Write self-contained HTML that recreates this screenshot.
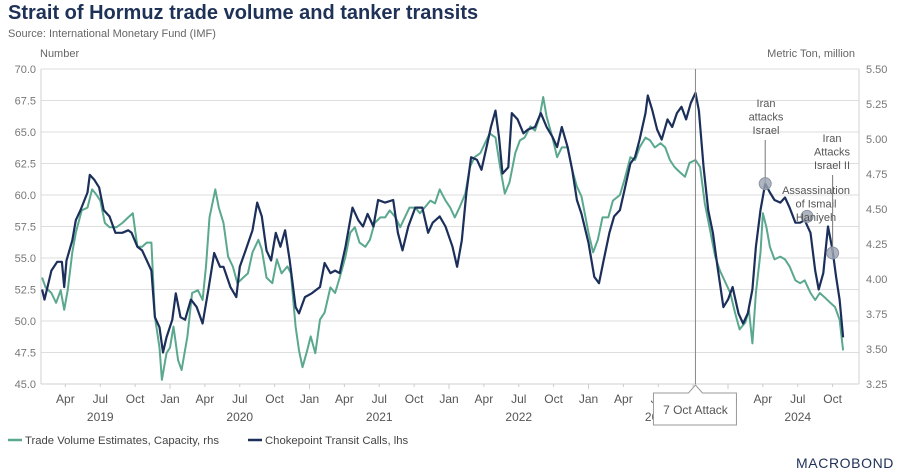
<!DOCTYPE html>
<html><head><meta charset="utf-8">
<style>
body{margin:0;background:#fff;width:907px;height:474px;overflow:hidden;font-family:"Liberation Sans",sans-serif}
svg{display:block}
</style></head>
<body>
<svg id="chart" width="907" height="474" xmlns="http://www.w3.org/2000/svg">
<text x="8" y="19" font-size="20" font-weight="bold" fill="#1e3157">Strait of Hormuz trade volume and tanker transits</text>
<text x="8" y="37" font-size="11" fill="#666">Source: International Monetary Fund (IMF)</text>
<text x="40" y="57" font-size="11" fill="#666">Number</text>
<text x="855" y="57" font-size="11" fill="#666" text-anchor="end">Metric Ton, million</text>
<g id="grid"></g>
<g id="axes"></g>
<g id="series"></g>
<g id="annot"></g>
<g>
<line x1="8" y1="440" x2="22" y2="440" stroke="#5aa88e" stroke-width="2.5"/>
<text x="25" y="444" font-size="11.3" fill="#444">Trade Volume Estimates, Capacity, rhs</text>
<line x1="248" y1="440" x2="262" y2="440" stroke="#1b2f5a" stroke-width="2.5"/>
<text x="265" y="444" font-size="11.3" fill="#444">Chokepoint Transit Calls, lhs</text>
</g>
<text x="894" y="468" font-size="14" fill="#1e3157" text-anchor="end" letter-spacing="0.6">MACROBOND</text>
</svg>
<script>
// months since Jan 2019
const navyMonths=[1.0,1.2,1.8,2.3,2.7,2.9,3.1,3.6,3.9,4.3,4.9,5.1,5.5,5.9,6.3,6.8,7.3,7.9,8.4,8.7,9.2,9.6,10.0,10.4,10.7,11.1,11.4,11.7,12.2,12.5,12.9,13.3,13.8,14.3,14.8,15.3,15.8,16.3,16.6,17.2,17.7,18.0,18.5,19.1,19.5,19.9,20.3,20.7,21.1,21.5,21.9,22.3,22.8,23.1,23.6,24.2,24.9,25.3,25.8,26.2,26.6,27.1,27.5,27.7,28.2,28.6,29.0,29.5,29.9,30.5,31.2,31.6,32.0,32.5,33.1,33.7,34.2,34.6,35.2,35.7,36.3,36.7,37.1,37.5,37.9,38.4,38.8,39.3,39.6,40.0,40.3,40.6,41.1,41.4,41.9,42.4,42.8,43.4,43.9,44.4,44.9,45.3,45.7,46.2,46.6,47.0,47.4,48.0,48.5,48.9,49.3,49.8,50.2,50.7,51.1,51.6,52.0,52.4,52.9,53.1,53.5,53.9,54.3,54.8,55.2,55.6,56.0,56.4,56.8,57.2,57.5,57.9,58.3,58.7,59.1,59.6,60.0,60.4,60.9,61.3,61.7,62.1,62.4,62.8,63.2,63.6,64.0,64.5,64.9,65.3,65.8,66.2,66.6,67.1,67.5,67.8,68.2,68.6,69.0,69.3,69.6,69.9];
const navyValues=[52.5,51.7,54.0,54.7,54.7,52.7,54.8,56.4,58.0,58.8,60.2,61.6,61.2,60.6,58.8,58.3,57.0,57.0,57.2,57.0,55.9,55.6,54.8,54.0,50.3,49.5,47.5,48.7,50.1,52.2,50.3,50.1,51.7,51.1,49.8,52.5,55.4,54.3,54.3,52.7,51.9,54.3,55.6,57.2,59.4,58.3,55.6,54.8,57.0,55.9,57.2,54.8,51.1,50.6,51.9,52.2,52.7,54.6,53.8,54.0,53.8,55.9,58.0,59.0,58.0,57.5,58.5,57.5,59.6,59.4,59.6,57.0,55.6,57.5,59.0,59.0,57.0,57.8,58.3,57.5,55.9,54.3,56.4,60.2,63.0,62.8,62.0,64.1,65.4,66.7,64.6,61.7,62.2,66.5,66.0,64.9,65.2,65.4,66.5,65.4,64.6,63.8,65.4,63.8,62.0,59.6,58.5,56.2,53.5,53.0,54.8,57.0,58.3,58.8,60.4,62.5,63.0,64.4,66.5,67.9,66.7,65.2,64.4,66.0,65.4,66.5,67.0,66.0,67.3,68.1,66.7,62.2,58.8,57.0,54.3,51.1,51.7,52.7,50.6,49.8,50.6,52.5,55.9,58.8,60.9,60.2,59.6,59.4,59.8,59.0,57.8,57.8,58.0,57.0,54.0,52.5,53.8,57.5,55.6,53.5,51.7,48.7];
const tealMonths=[1.0,1.3,1.8,2.2,2.6,2.9,3.2,3.6,3.9,4.4,4.9,5.3,5.6,6.0,6.4,6.8,7.4,7.9,8.4,8.8,9.2,9.6,10.0,10.4,10.7,11.1,11.3,11.7,12.0,12.3,12.7,13.0,13.5,13.9,14.4,14.8,15.1,15.4,15.9,16.2,16.6,17.0,17.4,17.8,18.3,18.7,19.1,19.6,19.9,20.3,20.8,21.2,21.6,22.1,22.4,22.8,23.1,23.4,23.8,24.1,24.5,24.9,25.3,25.8,26.2,26.6,27.1,27.5,27.9,28.3,28.8,29.2,29.6,30.1,30.5,30.9,31.4,31.8,32.2,32.6,33.1,33.5,33.9,34.4,34.8,35.2,35.7,36.1,36.5,36.9,37.4,37.8,38.2,38.7,39.1,39.5,40.0,40.4,40.8,41.2,41.7,42.1,42.5,43.0,43.4,43.8,44.1,44.4,44.9,45.3,45.7,46.2,46.6,47.0,47.4,48.0,48.4,48.8,49.2,49.7,50.1,50.7,51.1,51.6,52.0,52.4,52.9,53.3,53.7,54.2,54.6,55.0,55.4,55.9,56.3,56.7,57.2,57.6,58.0,58.5,58.9,59.3,59.7,60.2,60.6,61.0,61.5,61.8,62.1,62.4,62.8,63.0,63.3,63.6,64.0,64.5,64.9,65.3,65.8,66.2,66.6,67.1,67.5,67.9,68.3,68.8,69.2,69.6,69.9];
const tealValues=[4.01,3.94,3.90,3.83,3.92,3.78,3.92,4.19,4.33,4.49,4.51,4.64,4.61,4.56,4.40,4.37,4.37,4.40,4.44,4.47,4.23,4.23,4.26,4.26,3.73,3.51,3.28,3.47,3.51,3.66,3.42,3.35,3.59,3.90,3.92,3.85,4.09,4.44,4.64,4.51,4.40,4.16,4.09,3.97,4.01,4.04,4.19,4.28,4.21,4.01,3.97,4.14,4.04,4.09,4.04,3.66,3.49,3.37,3.49,3.59,3.47,3.71,3.76,3.94,3.90,4.01,4.16,4.33,4.37,4.26,4.23,4.28,4.40,4.44,4.44,4.49,4.44,4.37,4.44,4.51,4.51,4.47,4.51,4.56,4.54,4.64,4.56,4.51,4.44,4.51,4.61,4.80,4.87,4.90,4.97,5.04,5.01,4.80,4.61,4.69,4.90,4.99,5.01,5.09,5.06,5.16,5.30,5.16,5.01,4.87,4.94,4.94,4.78,4.66,4.59,4.33,4.19,4.28,4.44,4.44,4.56,4.60,4.71,4.87,4.85,4.94,5.01,4.99,4.94,4.97,4.94,4.85,4.80,4.76,4.73,4.83,4.85,4.80,4.54,4.33,4.16,4.06,3.99,3.90,3.76,3.64,3.69,3.78,3.54,3.90,4.19,4.47,4.37,4.23,4.14,4.16,4.14,4.09,3.99,3.97,3.99,3.90,3.85,3.90,3.87,3.83,3.80,3.71,3.49];
const leftTicks=["45.0","47.5","50.0","52.5","55.0","57.5","60.0","62.5","65.0","67.5","70.0"];
const rightTicks=["3.25","3.50","3.75","4.00","4.25","4.50","4.75","5.00","5.25","5.50"];
const years=["2019","2020","2021","2022","2023","2024"];
const events=[{label:"7 Oct Attack",month:57.2},{label:"Iran attacks Israel",month:63.2,value:60.9},{label:"Assassination of Ismail Haniyeh",month:66.8,value:58.3},{label:"Iran Attacks Israel II",month:69.0,value:55.4}];

const X0=41,X1=859,Y0=384,Y1=69;
const xs=m=>30.5+m*11.625;
const yl=v=>Y0-(v-45)/25*(Y0-Y1);
const yr=v=>Y0-(v-3.25)/2.25*(Y0-Y1);
const NS="http://www.w3.org/2000/svg";
function mk(tag,attrs,parent){const e=document.createElementNS(NS,tag);for(const k in attrs)e.setAttribute(k,attrs[k]);parent.appendChild(e);return e;}
const grid=document.getElementById('grid'),axes=document.getElementById('axes'),ser=document.getElementById('series'),ann=document.getElementById('annot');

leftTicks.forEach(t=>{const y=yl(parseFloat(t));
 const l=mk('line',{x1:X0,x2:X1,y1:y,y2:y,stroke:'#dedede','stroke-width':1},grid);
 
 
 const tx=mk('text',{x:36,y:y+4,'font-size':11,fill:'#777','text-anchor':'end'},axes);tx.textContent=t;
 
 
});
rightTicks.forEach(t=>{const y=yr(parseFloat(t));
 const tx=mk('text',{x:866,y:y+4,'font-size':11,fill:'#777'},axes);tx.textContent=t;
 
 
});
const la=mk('line',{x1:X0,x2:X0,y1:Y1,y2:Y0,stroke:'#d0d0d0'},axes);


const ra=mk('line',{x1:X1,x2:X1,y1:Y1,y2:Y0,stroke:'#d0d0d0'},axes);


const ba=mk('line',{x1:X0,x2:X1,y1:Y0,y2:Y0,stroke:'#d0d0d0'},axes);


const mnames=["Jan","Apr","Jul","Oct"];
years.forEach((yv,i)=>{
 for(let q=0;q<4;q++){const m=i*12+q*3;const x=xs(m);if(x<X0||x>X1)continue;
  const tk=mk('line',{x1:x,x2:x,y1:Y0,y2:Y0+(q==0?5:3),stroke:'#ccc'},axes);
  
  
  if(q==0&&i==0)continue;
  const tx=mk('text',{x:x,y:Y0+19,'font-size':12,fill:'#555','text-anchor':'middle'},axes);tx.textContent=mnames[q];
  
  
 }
 const ty=mk('text',{x:xs(i*12+6),y:Y0+37,'font-size':12,fill:'#555','text-anchor':'middle'},axes);ty.textContent=yv;
 
 
});
function path(ms,vs,f){return ms.map((m,i)=>(i?'L':'M')+xs(m).toFixed(1)+','+f(vs[i]).toFixed(1)).join('');}
const pt=mk('path',{d:path(tealMonths,tealValues,yr),fill:'none',stroke:'#5aa88e','stroke-width':2,'stroke-linejoin':'round'},ser);


const pn=mk('path',{d:path(navyMonths,navyValues,yl),fill:'none',stroke:'#1b2f5a','stroke-width':2.2,'stroke-linejoin':'round'},ser);



const e0=events[0],ex=xs(e0.month);
const vl=mk('line',{x1:ex,x2:ex,y1:Y1,y2:Y0,stroke:'#888','stroke-width':1},ann);


const cb=mk('path',{d:`M${ex-42},393 H${ex-7} L${ex},385 L${ex+7},393 H${ex+41} V425 H${ex-42} Z`,fill:'#fff',stroke:'#999'},ann);


const ct=mk('text',{x:ex,y:414,'font-size':12,fill:'#555','text-anchor':'middle'},ann);ct.textContent=e0.label;



function eventMark(ev,lines,tx,ty,lineTop,name){
 const x=xs(ev.month),y=yl(ev.value);
 if(lineTop!==null){const l=mk('line',{x1:x,x2:x,y1:lineTop,y2:y,stroke:'#777'},ann);
  
  }
 const c=mk('circle',{cx:x,cy:y,r:6,fill:'#9aa3b2','fill-opacity':0.8,stroke:'#8a93a2'},ann);
 
 
 const t=mk('text',{'font-size':11,fill:'#555','text-anchor':'middle'},ann);
 
 
 lines.forEach((s,i)=>{const sp=mk('tspan',{x:tx,y:ty+i*13.5},t);sp.textContent=s;});
}
eventMark(events[1],["Iran","attacks","Israel"],766,107,140,'iran-attacks-israel');
eventMark(events[2],["Assassination","of Ismail","Haniyeh"],816,194,null,'haniyeh-assassination');
eventMark(events[3],["Iran","Attacks","Israel II"],832,142,175,'iran-attacks-israel-2');
</script>
</body></html>
